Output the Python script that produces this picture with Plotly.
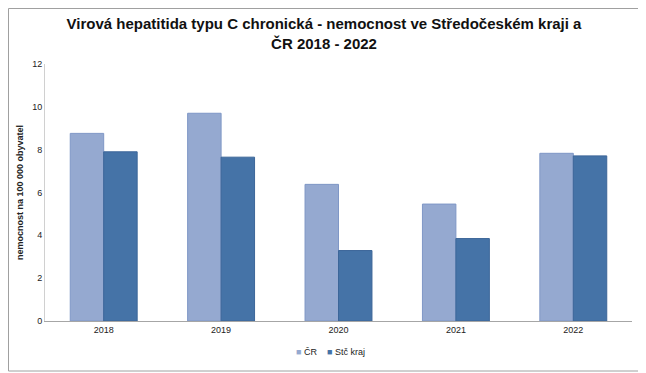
import plotly.graph_objects as go

years = ["2018", "2019", "2020", "2021", "2022"]
cr = [8.76, 9.70, 6.38, 5.46, 7.83]
stc = [7.90, 7.65, 3.29, 3.85, 7.71]
series_names = ["ČR", "Stč kraj"]
series_colors = ["#95A9D0", "#4573A7"]
series_edges = ["#7F97C6", "#3C6699"]
y_ticks = [0, 2, 4, 6, 8, 10, 12]

OFF = 8  # default page body margin
W, H = 646 - OFF, 373 - OFF
# plot area in screen pixels: x 45..632, y 64..321
L, R, T, B = 45 - OFF, 646 - 632, 64 - OFF, 373 - 321
pw, ph = W - L - R, H - T - B

def px2x(p):
    return (p - OFF - L) / pw

def py2y(p):
    return (H - B - (p - OFF)) / ph

fig = go.Figure()
for name, vals, col, edge in zip(series_names, [cr, stc], series_colors, series_edges):
    fig.add_trace(go.Bar(x=years, y=vals, name=name, showlegend=False,
                         marker=dict(color=col, line=dict(color=edge, width=1))))

legend_text = "    ".join(
    f"<span style='color:{c}'>■</span> {n}" for n, c in zip(series_names, series_colors)
)

fig.update_layout(
    width=W, height=H,
    margin=dict(l=L, r=R, t=T, b=B, autoexpand=False),
    paper_bgcolor="white", plot_bgcolor="white",
    font=dict(family="Liberation Sans, Arial", size=9, color="#222"),
    title=dict(text="<b>Virová hepatitida typu C chronická - nemocnost ve Středočeském kraji a<br>ČR 2018 - 2022</b>",
               x=(324 - OFF) / W, xanchor="center", xref="container",
               y=1 - (29 - OFF) / H, yanchor="middle", yref="container",
               font=dict(family="Liberation Sans, Arial", size=15, color="#111")),
    barmode="group", bargap=0.43, bargroupgap=0,
    xaxis=dict(showline=True, linecolor="#A6A6A6", linewidth=1, ticks="", showgrid=False,
               tickfont=dict(size=9), automargin=False),
    yaxis=dict(range=[0, 12], tickvals=y_ticks, showline=True, linecolor="#D0D0D0", linewidth=1,
               ticks="", showgrid=False, zeroline=False, tickfont=dict(size=9), automargin=False,
               title=dict(text="<b>nemocnost na 100 000 obyvatel</b>", font=dict(size=9), standoff=7)),
    annotations=[dict(text=legend_text, xref="paper", yref="paper", x=px2x(330), y=py2y(352),
                      xanchor="center", yanchor="middle", showarrow=False, font=dict(size=9))],
    shapes=[dict(type="rect", xref="paper", yref="paper",
                 x0=px2x(OFF + 0.5), x1=px2x(639), y0=py2y(371), y1=py2y(OFF + 0.5),
                 line=dict(color="#A0A0A0", width=1), fillcolor="rgba(0,0,0,0)", layer="below")],
)

fig.write_html("out.html")
